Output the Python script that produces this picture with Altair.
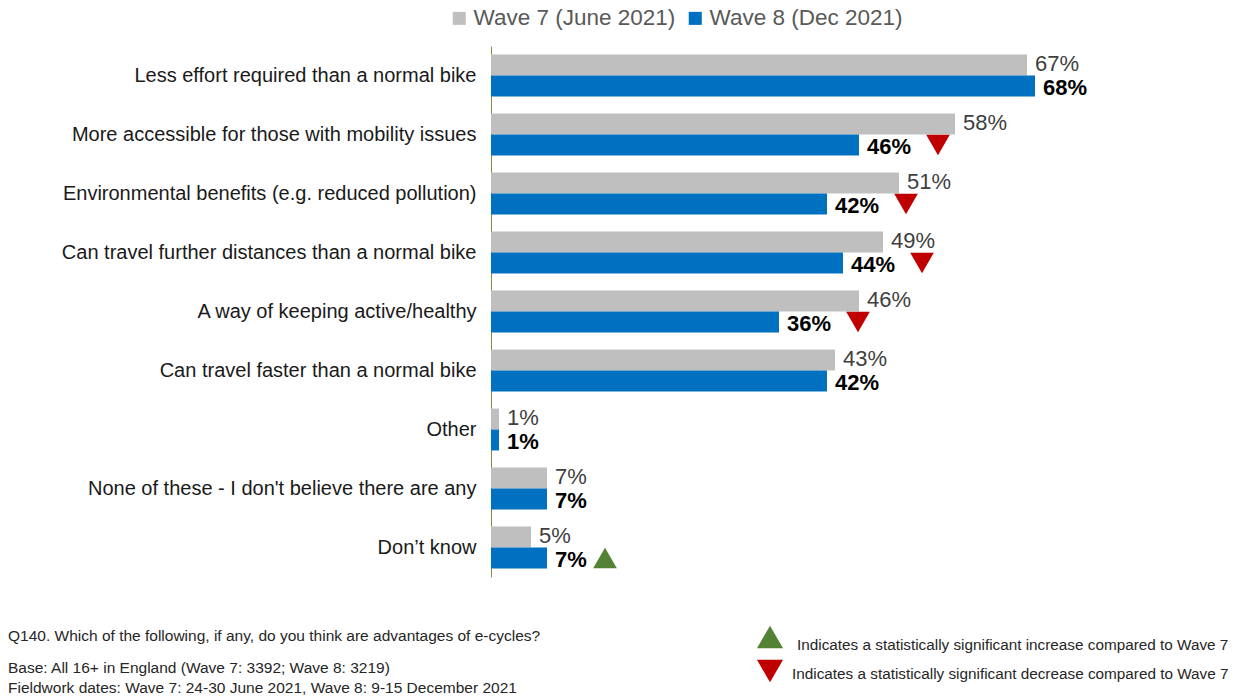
import altair as alt
import pandas as pd

categories = [
    "Less effort required than a normal bike",
    "More accessible for those with mobility issues",
    "Environmental benefits (e.g. reduced pollution)",
    "Can travel further distances than a normal bike",
    "A way of keeping active/healthy",
    "Can travel faster than a normal bike",
    "Other",
    "None of these - I don't believe there are any",
    "Don\u2019t know",
]
series_names = ["Wave 7 (June 2021)", "Wave 8 (Dec 2021)"]
wave7 = [67, 58, 51, 49, 46, 43, 1, 7, 5]
wave8 = [68, 46, 42, 44, 36, 42, 1, 7, 7]
significance = ["", "down", "down", "down", "down", "", "", "", "up"]

footnotes = [
    "Q140. Which of the following, if any, do you think are advantages of e-cycles?",
    "Base: All 16+ in England  (Wave 7: 3392; Wave 8: 3219)",
    "Fieldwork dates: Wave 7: 24-30 June 2021, Wave 8: 9-15 December 2021",
]
sig_notes = [
    "Indicates a statistically significant increase compared to Wave 7",
    "Indicates a statistically significant decrease compared to Wave 7",
]

rows = []
for c, v7, v8, s in zip(categories, wave7, wave8, significance):
    rows.append({"category": c, "series": series_names[0], "value": v7, "label": f"{v7}%", "sig": ""})
    rows.append({"category": c, "series": series_names[1], "value": v8, "label": f"{v8}%", "sig": s})
df = pd.DataFrame(rows)

FONT = "Liberation Sans"

y = alt.Y(
    "category:N",
    sort=categories,
    scale=alt.Scale(paddingInner=0.29, paddingOuter=0.145),
    axis=alt.Axis(
        title=None, ticks=False, domainColor="#77933C", domainWidth=1,
        labelFontSize=20, labelColor="#1a1a1a", labelPadding=15,
        labelLimit=600, labelFont=FONT,
    ),
)
yoff = alt.YOffset("series:N", sort=series_names)
x = alt.X("value:Q", scale=alt.Scale(domain=[0, 75]), axis=None)

base = alt.Chart(df)

bars = base.mark_bar().encode(
    x=x, y=y, yOffset=yoff,
    color=alt.Color(
        "series:N", sort=series_names,
        scale=alt.Scale(domain=series_names, range=["#BFBFBF", "#0070C0"]),
        legend=alt.Legend(
            title=None, orient="none", legendX=-43, legendY=-39,
            direction="horizontal", symbolType="square", symbolSize=170,
            labelFontSize=22.5, labelColor="#595959", labelFont=FONT,
            labelLimit=0, columnPadding=8, labelOffset=3, symbolStrokeWidth=0,
        ),
    ),
)

labels7 = base.transform_filter(alt.datum.series == series_names[0]).mark_text(
    align="left", baseline="middle", dx=8, dy=-1, fontSize=22, color="#404040", font=FONT
).encode(x=x, y=y, yOffset=yoff, text="label:N")

labels8 = base.transform_filter(alt.datum.series == series_names[1]).mark_text(
    align="left", baseline="middle", dx=8, dy=2, fontSize=22, fontWeight="bold", color="#000000", font=FONT
).encode(x=x, y=y, yOffset=yoff, text="label:N")

down = base.transform_filter(alt.datum.sig == "down").mark_point(
    shape="triangle-down", filled=True, color="#C00000", size=560, opacity=1, xOffset=79, yOffset=3
).encode(x=x, y=y, yOffset=yoff)

up = base.transform_filter(alt.datum.sig == "up").mark_point(
    shape="triangle-up", filled=True, color="#548235", size=560, opacity=1, xOffset=58, yOffset=2
).encode(x=x, y=y, yOffset=yoff)

one = alt.Data(values=[{}])

def note(text, px, py, size=15.5):
    return alt.Chart(one).mark_text(
        text=text, align="left", baseline="middle", fontSize=size, color="#262626", font=FONT
    ).encode(x=alt.value(px), y=alt.value(py))

OX, OY = 491, 46
notes = [
    note(footnotes[0], 8 - OX, 636 - OY),
    note(footnotes[1], 8 - OX, 668 - OY),
    note(footnotes[2], 8 - OX, 688 - OY),
    note(sig_notes[0], 797 - OX, 645 - OY, 15.3),
    note(sig_notes[1], 792 - OX, 674 - OY, 15.3),
]

leg_up = alt.Chart(one).mark_point(
    shape="triangle-up", filled=True, color="#548235", size=680, opacity=1
).encode(x=alt.value(770 - OX), y=alt.value(637 - OY))
leg_down = alt.Chart(one).mark_point(
    shape="triangle-down", filled=True, color="#C00000", size=680, opacity=1
).encode(x=alt.value(770 - OX), y=alt.value(671 - OY))

chart = alt.layer(bars, labels7, labels8, down, up, leg_up, leg_down, *notes).properties(
    width=600, height=531,
    autosize="none",
    padding={"left": OX, "top": OY, "right": 1236 - OX - 600, "bottom": 699 - OY - 531},
    background="white",
).configure_view(stroke=None)

chart.save("out.html", embed_options={"renderer": "svg", "actions": False})
